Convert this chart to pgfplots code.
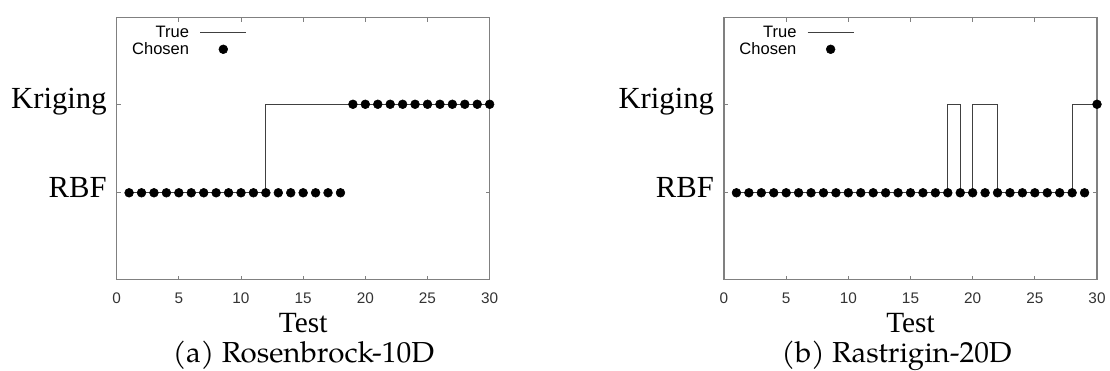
\documentclass[border=0pt]{standalone}
\usepackage{fontspec}
\usepackage{graphicx}
\setsansfont{Liberation Sans}
\newfontfamily\timesf{Liberation Serif}
\newfontfamily\capfont{TeX Gyre Pagella}
\usepackage{pgfplots}
\pgfplotsset{compat=1.18}

\pgfplotsset{
 chartstyle/.style={
  scale only axis, width=279.75pt, height=196.5pt,
  xmin=0, xmax=30, ymin=-0.98, ymax=1.98,
  clip=false,
  xtick={0,5,...,30}, ytick={0,1}, yticklabels={RBF,Kriging},
  axis line style={black!50, line width=0.8pt}, tick style={black!50, line width=0.6pt}, major tick length=3pt,
  /pgf/number format/assume math mode=true,
  xticklabel style={font=\sffamily\fontsize{11.5}{11.5}\selectfont, text=black!80, anchor=base, yshift=-17.8pt},
  yticklabel style={font=\timesf\fontsize{23}{23}\selectfont, text height=0.66em, text depth=0pt, anchor=east, xshift=-4pt},
  xlabel={Test},
  every axis x label/.style={at={(axis description cs:0.5,-0.2005)}, anchor=base, font=\timesf\fontsize{22}{22}\selectfont},
  legend style={draw=none, fill=none, at={(0.03,0.985)}, anchor=north west,
     font=\sffamily\fontsize{12.4}{12.4}\selectfont, inner sep=1pt, row sep=-1.6pt,
     /tikz/every odd column/.append style={column sep=6pt}},
  legend cell align=right, legend plot pos=right,
  legend image code/.code={\draw[mark repeat=2,mark phase=2,##1] plot coordinates {(0pt,0pt) (17.25pt,0pt) (34.5pt,0pt)};},
 },
 trueline/.style={const plot, black!75, line width=0.8pt, mark=none},
 chosen/.style={only marks, mark=*, mark size=3.3pt, black},
}

\begin{document}
\begin{tikzpicture}
\path[use as bounding box] (0,0) rectangle (832.5pt,278.25pt);

\begin{axis}[chartstyle, at={(87.5pt,68.6pt)}, anchor=south west]
\addplot[trueline] coordinates {
(1,0)(2,0)(3,0)(4,0)(5,0)(6,0)(7,0)(8,0)(9,0)(10,0)(11,0)(12,1)(13,1)(14,1)(15,1)(16,1)(17,1)(18,1)(19,1)(20,1)(21,1)(22,1)(23,1)(24,1)(25,1)(26,1)(27,1)(28,1)(29,1)(30,1)};
\addlegendentry{True}
\addplot[chosen] coordinates {
(1,0)(2,0)(3,0)(4,0)(5,0)(6,0)(7,0)(8,0)(9,0)(10,0)(11,0)(12,0)(13,0)(14,0)(15,0)(16,0)(17,0)(18,0)(19,1)(20,1)(21,1)(22,1)(23,1)(24,1)(25,1)(26,1)(27,1)(28,1)(29,1)(30,1)};
\addlegendentry{Chosen}
\end{axis}

\begin{axis}[chartstyle, at={(543pt,68.6pt)}, anchor=south west]
\addplot[trueline] coordinates {
(1,0)(2,0)(3,0)(4,0)(5,0)(6,0)(7,0)(8,0)(9,0)(10,0)(11,0)(12,0)(13,0)(14,0)(15,0)(16,0)(17,0)(18,1)(19,0)(20,1)(21,1)(22,0)(23,0)(24,0)(25,0)(26,0)(27,0)(28,1)(29,1)(30,1)};
\addlegendentry{True}
\addplot[chosen] coordinates {
(1,0)(2,0)(3,0)(4,0)(5,0)(6,0)(7,0)(8,0)(9,0)(10,0)(11,0)(12,0)(13,0)(14,0)(15,0)(16,0)(17,0)(18,0)(19,0)(20,0)(21,0)(22,0)(23,0)(24,0)(25,0)(26,0)(27,0)(28,0)(29,0)(30,1)};
\addlegendentry{Chosen}
\end{axis}

\node[anchor=base, inner sep=0pt, font=\capfont\fontsize{21.7}{26}\selectfont] at (227.6pt,6pt) {\resizebox{196pt}{\height}{(a) Rosenbrock-10D}};
\node[anchor=base, inner sep=0pt, font=\capfont\fontsize{21.7}{26}\selectfont] at (672.5pt,6pt) {\resizebox{172.5pt}{\height}{(b) Rastrigin-20D}};
\end{tikzpicture}
\end{document}
